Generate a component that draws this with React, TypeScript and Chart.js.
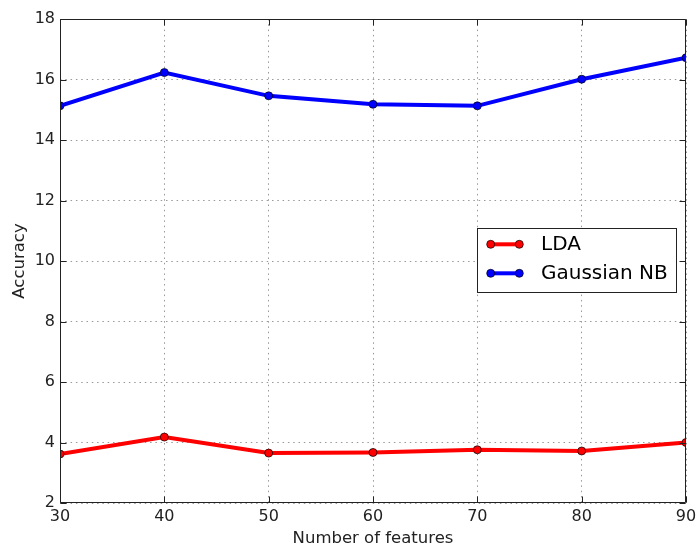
import React, { useEffect, useRef } from "react";
import { Chart, registerables } from "chart.js";

Chart.register(...registerables);

const features = [30, 40, 50, 60, 70, 80, 90];
const ldaAccuracy = [3.62, 4.18, 3.65, 3.67, 3.76, 3.72, 4.0];
const gnbAccuracy = [15.13, 16.23, 15.46, 15.18, 15.13, 16.01, 16.72];
const seriesLabels = ["LDA", "Gaussian NB"];
const seriesColors = ["#ff0000", "#0000ff"];
const xRange = [30, 90];
const yRange = [2, 18];
const xLabel = "Number of features";
const yLabel = "Accuracy";

const FONT = "'DejaVu Sans', sans-serif";

const framePlugin = {
  id: "frame",
  afterDatasetsDraw(chart: any) {
    const { ctx, chartArea: a, scales } = chart;
    ctx.save();
    ctx.strokeStyle = "#222";
    ctx.lineWidth = 1;
    const L = Math.round(a.left) + 0.5;
    const R = Math.round(a.right) - 0.5;
    const T = Math.round(a.top) + 0.5;
    const B = Math.round(a.bottom) - 0.5;
    ctx.beginPath();
    ctx.rect(L, T, R - L, B - T);
    ctx.stroke();
    const tl = 6;
    ctx.beginPath();
    for (const t of scales.y.ticks) {
      const py = Math.round(scales.y.getPixelForValue(t.value)) + 0.5;
      ctx.moveTo(L, py);
      ctx.lineTo(L + tl, py);
      ctx.moveTo(R, py);
      ctx.lineTo(R - tl, py);
    }
    for (const t of scales.x.ticks) {
      const px = Math.round(scales.x.getPixelForValue(t.value)) + 0.5;
      ctx.moveTo(px, B);
      ctx.lineTo(px, B - tl);
      ctx.moveTo(px, T);
      ctx.lineTo(px, T + tl);
    }
    ctx.stroke();
    ctx.restore();
  },
  afterDraw(chart: any) {
    const { ctx } = chart;
    ctx.save();
    const bx = 477.5, by = 228.5, bw = 199, bh = 64;
    ctx.fillStyle = "#fff";
    ctx.fillRect(bx, by, bw, bh);
    ctx.strokeStyle = "#222";
    ctx.lineWidth = 1;
    ctx.strokeRect(bx, by, bw, bh);
    const rows = [244.3, 273.3];
    ctx.font = `20px ${FONT}`;
    ctx.textBaseline = "middle";
    ctx.textAlign = "left";
    seriesLabels.forEach((lab, i) => {
      const y = rows[i];
      ctx.strokeStyle = seriesColors[i];
      ctx.lineWidth = 4;
      ctx.beginPath();
      ctx.moveTo(490.7, y);
      ctx.lineTo(519.3, y);
      ctx.stroke();
      for (const cx of [490.7, 519.3]) {
        ctx.beginPath();
        ctx.arc(cx, y, 4, 0, Math.PI * 2);
        ctx.fillStyle = seriesColors[i];
        ctx.fill();
        ctx.lineWidth = 0.7;
        ctx.strokeStyle = "#000";
        ctx.stroke();
      }
      ctx.fillStyle = "#000";
      ctx.fillText(lab, 541, y);
    });
    ctx.restore();
  },
};

export default function App() {
  const ref = useRef<HTMLCanvasElement | null>(null);
  useEffect(() => {
    if (!ref.current) return;
    const series = [ldaAccuracy, gnbAccuracy];
    const chart = new Chart(ref.current, {
      type: "line",
      data: {
        datasets: series.map((vals, i) => ({
          label: seriesLabels[i],
          data: features.map((f, j) => ({ x: f, y: vals[j] })),
          borderColor: seriesColors[i],
          backgroundColor: seriesColors[i],
          borderWidth: 4,
          pointRadius: 4,
          pointBackgroundColor: seriesColors[i],
          pointBorderColor: "#000",
          pointBorderWidth: 0.7,
          tension: 0,
          clip: 0,
        })),
      },
      options: {
        responsive: false,
        animation: false,
        layout: { padding: { top: 19, right: 11, left: 0, bottom: 0 } },
        plugins: { legend: { display: false }, tooltip: { enabled: false } },
        scales: {
          x: {
            type: "linear",
            min: xRange[0],
            max: xRange[1],
            ticks: {
              stepSize: 10,
              autoSkip: false,
              maxRotation: 0,
              padding: 4,
              color: "#222",
              font: { family: FONT, size: 16 },
            },
            grid: {
              color: "#999",
              lineWidth: 1,
              drawTicks: false,
            },
            border: { display: false, dash: [1.5, 3.8] },
            title: {
              display: true,
              text: xLabel,
              color: "#222",
              font: { family: FONT, size: 16.5, lineHeight: 1.1 },
              padding: { top: 0, bottom: 0 },
            },
            afterFit(scale: any) {
              scale.height = 45;
              scale.paddingLeft = 0;
              scale.paddingRight = 0;
            },
          },
          y: {
            type: "linear",
            min: yRange[0],
            max: yRange[1],
            ticks: {
              stepSize: 2,
              autoSkip: false,
              padding: 5,
              color: "#222",
              font: { family: FONT, size: 16 },
            },
            grid: {
              color: "#999",
              lineWidth: 1,
              drawTicks: false,
            },
            border: { display: false, dash: [1.5, 3.8] },
            title: {
              display: true,
              text: yLabel,
              color: "#222",
              font: { family: FONT, size: 16.5, lineHeight: 1.2 },
              padding: { top: 9.5, bottom: 0 },
            },
            afterFit(scale: any) {
              scale.width = 60;
              scale.paddingTop = 0;
              scale.paddingBottom = 0;
            },
          },
        },
      },
      plugins: [framePlugin],
    } as any);
    return () => chart.destroy();
  }, []);
  return (
    <div style={{ position: "absolute", left: 0, top: 0, width: 697, height: 548, background: "#fff" }}>
      <canvas ref={ref} width={697} height={548} style={{ display: "block" }} />
    </div>
  );
}
